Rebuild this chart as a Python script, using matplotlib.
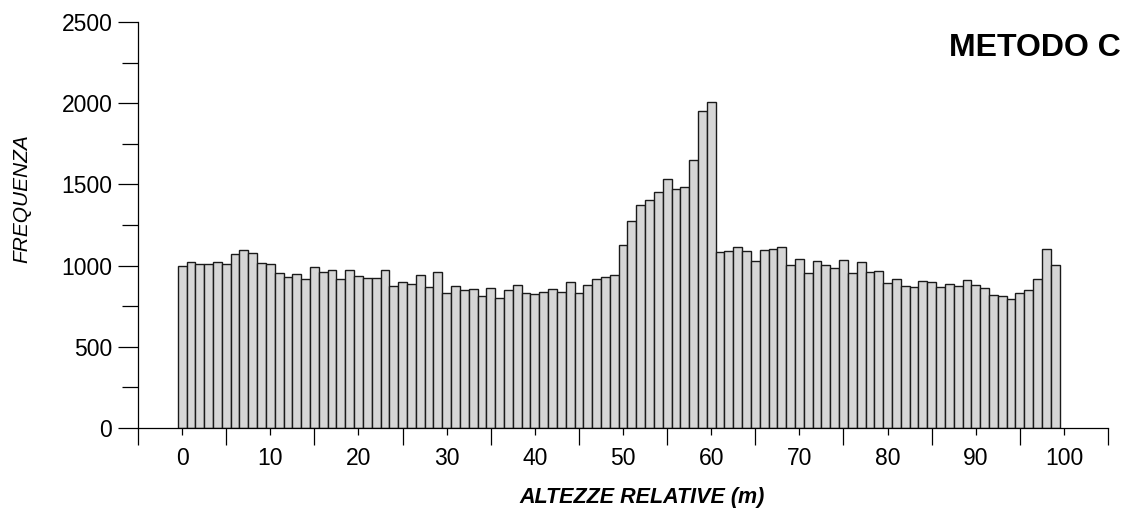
import numpy as np
import matplotlib
matplotlib.use("Agg")
import matplotlib.pyplot as plt
from matplotlib.ticker import MultipleLocator

# classi di altezza relativa (m) e frequenze per classe
altezze = list(range(100))
frequenze = [
    999, 1020, 1008, 1008, 1020, 1008, 1069, 1094, 1076, 1014,
    1010, 956, 932, 946, 915, 989, 960, 971, 919, 975,
    934, 922, 926, 971, 876, 897, 889, 944, 866, 963,
    831, 872, 848, 858, 811, 864, 798, 848, 878, 831,
    827, 837, 854, 835, 899, 831, 882, 919, 929, 943,
    1126, 1275, 1375, 1404, 1451, 1531, 1470, 1486, 1652, 1950,
    2007, 1082, 1088, 1115, 1092, 1028, 1098, 1104, 1112, 1006,
    1043, 952, 1030, 1002, 987, 1032, 952, 1020, 960, 965,
    891, 919, 874, 866, 905, 899, 866, 889, 876, 911,
    883, 862, 819, 815, 794, 831, 848, 919, 1104, 1002,
]
etichette_x = [0, 10, 20, 30, 40, 50, 60, 70, 80, 90, 100]
etichette_y = [0, 500, 1000, 1500, 2000, 2500]

plt.rcParams['font.family'] = ['Liberation Sans', 'DejaVu Sans']

fig = plt.figure(figsize=(11.3, 5.12), dpi=100)
ax = fig.add_axes([138 / 1130, 1 - 428 / 512, 970 / 1130, 406 / 512])

ax.bar(altezze, frequenze, width=1.0, color='#d6d6d6',
       edgecolor='#1a1a1a', linewidth=1.0, align='center')

ax.set_xlim(-5, 105)
ax.set_ylim(0, 2500)

for lato in ('top', 'right'):
    ax.spines[lato].set_visible(False)
for lato in ('left', 'bottom'):
    ax.spines[lato].set_linewidth(0.9)
    ax.spines[lato].set_color('black')

ax.set_xticks(etichette_x)
ax.xaxis.set_minor_locator(MultipleLocator(10, offset=5))
ax.set_yticks(etichette_y)
ax.yaxis.set_minor_locator(MultipleLocator(500, offset=250))

ax.tick_params(axis='x', which='major', length=5, width=0.9, pad=9, labelsize=16.5)
ax.tick_params(axis='x', which='minor', length=12, width=0.9)
ax.tick_params(axis='y', which='major', length=14.5, width=0.9, pad=4, labelsize=16.5)
ax.tick_params(axis='y', which='minor', length=11.5, width=0.9)

fig.text(22 / 1130, 1 - 199 / 512, 'FREQUENZA', rotation=90, style='italic',
         fontsize=15, ha='center', va='center')
fig.text(642 / 1130, 1 - 497 / 512, 'ALTEZZE RELATIVE (m)',
         style='italic', weight='bold', fontsize=15.5, ha='center', va='center')
fig.text(1121 / 1130, 1 - 48 / 512, 'METODO C', weight='bold', fontsize=23,
         ha='right', va='center')

fig.savefig('out.png', dpi=100)
